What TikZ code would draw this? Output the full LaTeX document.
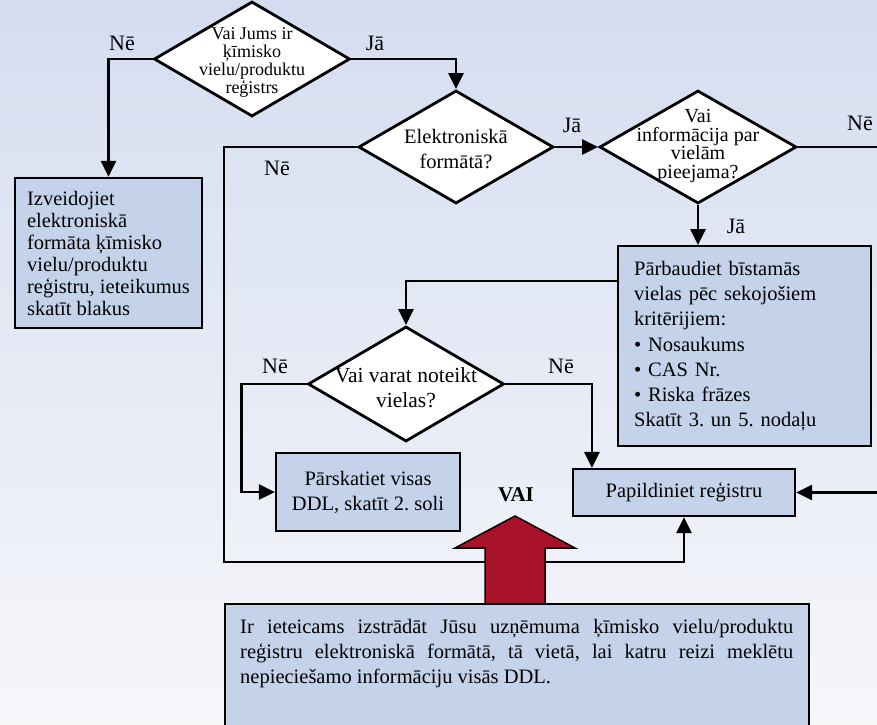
\documentclass[tikz,border=0pt]{standalone}
\usepackage{fontspec}
\setmainfont{Liberation Serif}
\usetikzlibrary{shapes.geometric,arrows.meta,calc}
\definecolor{bgtop}{RGB}{212,221,240}
\definecolor{bgbot}{RGB}{247,247,250}
\definecolor{boxfill}{RGB}{196,210,234}
\definecolor{arrred}{RGB}{168,18,42}
\frenchspacing
\begin{document}
\begin{tikzpicture}[x=1pt,y=-1pt,
  dia/.style={diamond, draw=black, fill=white, line width=2.8pt, inner sep=0pt},
  dtext/.style={align=center, inner sep=0pt},
  bx/.style={draw=black, fill=boxfill, line width=2.2pt, inner sep=0pt},
  conn/.style={line width=2.8pt, -{Triangle[length=16pt,width=15pt]}},
  plain/.style={line width=2.8pt},
  lbl/.style={font=\fontsize{22}{22}\selectfont, anchor=base, inner sep=0pt},
  txt/.style={font=\fontsize{20.5}{25}\selectfont}
]
\useasboundingbox (0,0) rectangle (877,724);
\clip (0,0) rectangle (877,724);
\fill[top color=bgtop, bottom color=bgbot] (0,0) rectangle (877,724);

% diamonds
\node[dia, minimum width=196pt, minimum height=115pt] (d1) at (252,59) {};
\node[dtext, font=\fontsize{18}{18}\selectfont] (d1t) at (252,62) {Vai Jums ir\\ķīmisko\\vielu/produktu\\reģistrs};
\node[dia, minimum width=195pt, minimum height=113pt] (d2) at (456,147) {};
\node[dtext, font=\fontsize{20.5}{25}\selectfont] (d2t) at (456,149) {Elektroniskā\\formātā?};
\node[dia, minimum width=197pt, minimum height=113pt] (d3) at (698,147) {};
\node[dtext, font=\fontsize{20}{18.5}\selectfont] (d3t) at (698,146) {Vai\\informācija par\\vielām\\pieejama?};
\node[dia, minimum width=196pt, minimum height=115pt] (d4) at (406,384) {};
\node[dtext, font=\fontsize{21.5}{25}\selectfont] (d4t) at (406,388) {Vai varat noteikt\\vielas?};

% boxes
\node[bx, font=\fontsize{20.5}{22}\selectfont, minimum width=187pt, minimum height=150pt, align=left] (box1) at (108.5,253)
  {Izveidojiet\\elektroniskā\\formāta ķīmisko\\vielu/produktu\\reģistru, ieteikumus\\skatīt blakus};
\node[bx, font=\fontsize{20.5}{25.3}\selectfont, anchor=north west, text width=221pt, inner xsep=16pt, minimum height=200pt, align=left] (pbox) at (617,245)
  {Pārbaudiet bīstamās\\vielas pēc sekojošiem\\kritērijiem:\\• Nosaukums\\• CAS Nr.\\• Riska frāzes\\Skatīt 3. un 5. nodaļu};
\node[bx, txt, minimum width=222pt, minimum height=47pt] (pap) at (684,492.5) {Papildiniet reģistru};
\node[bx, txt, minimum width=184pt, minimum height=78pt, align=center] (rev) at (368,492) {Pārskatiet visas\\DDL, skatīt 2. soli};

% connectors
\coordinate (cl) at (224,562);
\coordinate (rEdgeA) at (880,147);
\coordinate (rEdgeB) at (880,492.5);
\draw[conn] (d1.west) -| (box1.north);
\draw[conn] (d1.east) -| (d2.north);
\draw[conn] (d2.east) -- (d3.west);
\draw[plain] (d3.east) -- (rEdgeA);
\draw[conn] (d3.south) -- (d3.south |- pbox.north);
\draw[conn] ($(pbox.north west)+(0,36)$) -| (d4.north);
\draw[conn] (d4.west) -- ++(-65,0) |- (rev.west);
\draw[conn] (d4.east) -| ($(pap.north west)+(20,0)$);
\draw[conn] (rEdgeB) -- (pap.east);
\draw[conn] (d2.west) -| (cl) -| (pap.south);

% labels
\node[lbl] (l1) at (122,50) {Nē};
\node[lbl] (l2) at (375,50) {Jā};
\node[lbl] (l3) at (277,175) {Nē};
\node[lbl] (l4) at (572,132) {Jā};
\node[lbl] (l5) at (860,130) {Nē};
\node[lbl] (l6) at (736,233) {Jā};
\node[lbl] (l7) at (275,373) {Nē};
\node[lbl] (l8) at (561,373) {Nē};
\node[anchor=base, inner sep=0pt, font=\fontsize{21}{21}\selectfont\bfseries] (vai) at (516,501) {VAI};

% red arrow
\draw[fill=arrred, line width=1.5pt, line join=miter] (485,604) -- (485,548) -- (455,548) -- (515,516) -- (575,548) -- (545,548) -- (545,604) -- cycle;

% bottom note
\node[bx, anchor=north west, minimum width=584pt, minimum height=160pt] (note) at (224,603) {};
\node[anchor=north west, inner sep=0pt, text width=553pt, align=justify, font=\fontsize{20.5}{25}\selectfont] (notet) at (240,619)
  {\hyphenpenalty=10000 Ir ieteicams izstrādāt Jūsu uzņēmuma ķīmisko vielu/produktu\linebreak reģistru elektroniskā formātā, tā vietā, lai katru reizi meklētu\linebreak nepieciešamo informāciju visās DDL.};
\end{tikzpicture}
\end{document}
